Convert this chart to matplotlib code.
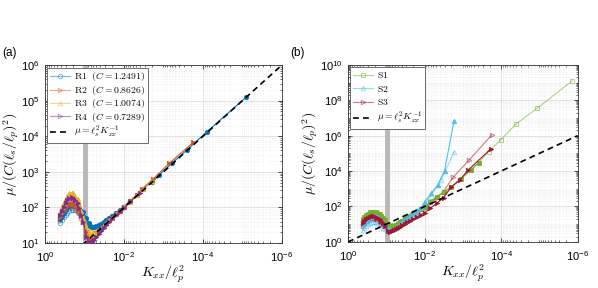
import matplotlib
matplotlib.use("Agg")
import matplotlib.pyplot as plt
import numpy as np
from matplotlib.ticker import LogLocator, NullFormatter

plt.rcParams['mathtext.fontset'] = 'cm'
plt.rcParams['font.family'] = ['Liberation Sans', 'DejaVu Sans']

# ---------------- data ----------------
k_hump = [0.41, 0.38, 0.34, 0.30, 0.27, 0.24, 0.21, 0.19, 0.17, 0.15, 0.135, 0.12, 0.107]
k_post = [0.089, 0.079, 0.071, 0.063, 0.056, 0.050, 0.044, 0.038, 0.033, 0.028,
          0.024, 0.020, 0.016, 0.0126, 0.010]

# panel (a)
r1_open_y = [37, 44, 53, 63, 72, 80, 85, 86, 83, 77, 70, 62, 55,
             42, 35, 31, 29, 29, 30, 32, 35, 39, 44, 50, 57, 68, 82, 100]
r1_fill_tail_k = [0.0071, 0.0048, 0.0032, 0.002, 0.00126, 0.00059, 0.00025, 7.8e-5, 8.1e-6]
r1_fill_y = [48, 58, 72, 88, 102, 112, 117, 115, 108, 97, 88, 80, 75,
             50, 36, 30, 28, 28, 30, 32, 35, 39, 44, 50, 58, 70, 84, 103,
             148, 220, 330, 530, 840, 1800, 4200, 13500, 125000]

r2_open_y = [42, 52, 64, 78, 90, 98, 102, 100, 93, 82, 68, 52, 38,
             22, 17, 15, 15, 16, 18, 21, 25, 30, 36, 43, 52, 64, 80, 102]
r2_fill_tail_k = [0.0071, 0.0048, 0.0035, 0.0018, 0.00071, 0.000174]
r2_fill_y = [55, 68, 84, 100, 115, 125, 128, 124, 113, 97, 78, 58, 40,
             18, 12.5, 11.5, 12, 14, 16.5, 20, 24, 29, 35, 43, 52, 65, 82, 105,
             152, 225, 330, 640, 1740, 6800]

r3_open_y = [60, 80, 105, 135, 165, 190, 200, 192, 170, 140, 108, 78, 55,
             35, 27, 23, 22, 22, 23, 25, 28, 33, 38, 45, 53, 65, 81, 102]
r3_fill_tail_k = [0.0071, 0.0048, 0.0032, 0.0019]
r3_fill_y = [75, 100, 135, 175, 215, 250, 262, 250, 215, 170, 122, 82, 52,
             28, 20, 17, 16.5, 17.5, 19.5, 22.5, 26.5, 31.5, 37.5, 44, 52, 64, 80, 102,
             146, 218, 325, 560]

r4_open_y = [48, 62, 80, 100, 120, 135, 142, 138, 125, 106, 85, 62, 44,
             24, 18, 16, 16, 17, 19, 22, 26, 31, 37, 44, 52, 63, 79, 100]
r4_fill_tail_k = [0.0071, 0.004]
r4_fill_y = [60, 78, 102, 130, 158, 180, 192, 185, 162, 130, 95, 62, 38,
             15, 11, 10.2, 10.5, 12, 14.5, 18, 22, 27, 33, 40, 49, 61, 77, 98,
             142, 255]

r_labels = [r'$\mathrm{R1}\ \ (C = 1.2491)$', r'$\mathrm{R2}\ \ (C = 0.8626)$',
            r'$\mathrm{R3}\ \ (C = 1.0074)$', r'$\mathrm{R4}\ \ (C = 0.7289)$']

# panel (b)
s1_open_tail_k = [0.0071, 0.0048, 0.0032, 0.002, 0.00115, 0.00063, 0.00039, 0.00021,
                  0.000102, 4.1e-5, 1.15e-5, 1.38e-6]
s1_open_y = [14, 18, 23, 28, 33, 37, 39, 38, 35, 30, 25, 19, 15,
             10, 8.5, 8, 8.5, 9.5, 11, 13, 16, 20, 25, 31, 40, 53, 70, 92,
             200, 355, 660, 1320, 3600, 11500, 30000, 126000, 575000, 4.5e6, 3.5e7, 1.26e9]
s1_fill_tail_k = [0.0071, 0.0048, 0.0032, 0.002, 0.00115, 0.00063, 0.00039]
s1_fill_y = [20, 26, 33, 40, 46, 50, 51, 49, 45, 38, 30, 23, 17,
             10, 8, 7.5, 8, 9, 10.5, 12.5, 15, 19, 24, 30, 39, 52, 70, 95,
             190, 340, 620, 1250, 3500, 11000, 29000]

s2_open_tail_k = [0.0066, 0.0045, 0.0037, 0.0017]
s2_open_y = [5, 6.5, 8, 10, 12, 13.5, 14, 13.5, 12, 10, 8, 6.5, 5.5,
             6, 6, 6.5, 7.5, 9, 11, 13.5, 17, 22, 28, 36, 47, 62, 85, 140,
             500, 1600, 3200, 112000]
s2_fill_tail_k = [0.0066, 0.0045, 0.003, 0.0017]
s2_fill_y = [10, 13, 16, 20, 24, 27, 28, 27, 24, 20, 16, 12, 9,
             6, 5, 5, 5.5, 6.5, 8, 10, 13, 17, 22, 29, 38, 52, 80, 190,
             560, 1700, 10700, 7e6]

s3_open_tail_k = [0.0071, 0.0048, 0.0032, 0.0018, 0.0007, 0.000174]
s3_open_y = [8, 10, 13, 16, 19, 21, 22, 21, 19, 16, 13, 10, 8,
             6, 5.5, 5.5, 6, 7, 8.5, 10.5, 13, 16, 20, 26, 34, 45, 60, 82,
             160, 300, 700, 4500, 40000, 1.12e6]
s3_fill_tail_k = [0.0071, 0.0048, 0.0032, 0.002, 0.0012, 0.00072, 0.000186]
s3_fill_y = [12, 15, 19, 23, 26, 28, 28, 26, 23, 19, 15, 11, 8,
             4, 3.8, 4, 4.5, 5.2, 6, 7, 8.5, 10.5, 13, 16, 20, 26, 34, 45,
             80, 150, 320, 1260, 3200, 11700, 178000]

s_labels = [r'$\mathrm{S1}$', r'$\mathrm{S2}$', r'$\mathrm{S3}$']

line_k = [1.0, 1e-6]
line_mu = [1.0, 1e6]
k_band = 0.095
line_label = r'$\mu = \ell_s^2 K_{xx}^{-1}$'

# ---------------- plotting ----------------
fig = plt.figure(figsize=(5.98, 2.88), dpi=100)
axA = fig.add_axes([0.0753, 0.156, 0.396, 0.618])
axB = fig.add_axes([0.582, 0.160, 0.384, 0.615])

def style_axes(ax, ylim, ymaj):
    ax.set_xscale('log')
    ax.set_yscale('log')
    ax.set_xlim(1, 1e-6)
    ax.set_ylim(*ylim)
    ax.xaxis.set_major_locator(LogLocator(base=100.0, numticks=10))
    ax.xaxis.set_minor_locator(LogLocator(base=10.0, subs=np.arange(1, 10), numticks=20))
    ax.xaxis.set_minor_formatter(NullFormatter())
    ax.yaxis.set_major_locator(LogLocator(base=ymaj, numticks=12))
    ax.yaxis.set_minor_locator(LogLocator(base=10.0, subs=np.arange(1, 10), numticks=20))
    ax.yaxis.set_minor_formatter(NullFormatter())
    ax.grid(True, which='major', color='#d8d8d8', lw=0.5, ls='-')
    ax.grid(True, which='minor', color='#e4e4e4', lw=0.4, ls=':')
    ax.tick_params(which='both', direction='in', top=True, right=True, labelsize=8)
    ax.tick_params(which='major', length=3, width=0.5)
    ax.tick_params(axis='x', which='major', pad=5)
    ax.tick_params(axis='y', which='major', pad=4)
    ax.tick_params(which='minor', length=1.5, width=0.4)
    for s in ax.spines.values():
        s.set_linewidth(0.6)
        s.set_color('#333333')
    ax.set_axisbelow(True)
    ax.axvline(k_band, color='#b8b8b8', lw=3.5, zorder=1)
    ax.set_xlabel(r'$K_{xx}/\ell_p^2$', fontsize=10, labelpad=0)
    ax.set_ylabel(r'$\mu/(C(\ell_s/\ell_p)^2)$', fontsize=10, labelpad=0)

style_axes(axA, (10, 1e6), 10.0)
style_axes(axB, (1, 1e10), 100.0)

colsA = ['#0072BD', '#D95319', '#EDB120', '#7E2F8E']
marksA = ['o', '>', '^', '>']
openA = [r1_open_y, r2_open_y, r3_open_y, r4_open_y]
fillA = [(r1_fill_tail_k, r1_fill_y), (r2_fill_tail_k, r2_fill_y),
         (r3_fill_tail_k, r3_fill_y), (r4_fill_tail_k, r4_fill_y)]
for c, m, oy, (tk, fy), lab in zip(colsA, marksA, openA, fillA, r_labels):
    axA.plot(k_hump + k_post, oy, color=c, alpha=0.5, lw=0.8, marker=m, ms=3.2,
             mfc='none', mew=0.7, label=lab, zorder=3)
    axA.plot(k_hump + k_post + tk, fy, color=c, lw=0.8, marker=m, ms=3.2,
             mfc=c, mew=0.5, zorder=4)
axA.plot(line_k, line_mu, 'k--', lw=1.2, dashes=(3.5, 2.5), label=line_label, zorder=5)

colsB = ['#77AC30', '#4DBEEE', '#A2142F']
marksB = ['s', '^', '>']
openB = [(s1_open_tail_k, s1_open_y), (s2_open_tail_k, s2_open_y), (s3_open_tail_k, s3_open_y)]
fillB = [(s1_fill_tail_k, s1_fill_y), (s2_fill_tail_k, s2_fill_y), (s3_fill_tail_k, s3_fill_y)]
for c, m, (ok, oy), (fk, fy), lab in zip(colsB, marksB, openB, fillB, s_labels):
    axB.plot(k_hump + k_post + ok, oy, color=c, alpha=0.55, lw=0.8, marker=m, ms=3.2,
             mfc='none', mew=0.7, label=lab, zorder=3)
    axB.plot(k_hump + k_post + fk, fy, color=c, lw=0.8, marker=m, ms=3.2,
             mfc=c, mew=0.5, zorder=4)
axB.plot(line_k, line_mu, 'k--', lw=1.2, dashes=(3.5, 2.5), label=line_label, zorder=5)

for ax, ls in ((axA, 0.05), (axB, 0.35)):
    leg = ax.legend(loc='upper left', fontsize=7, frameon=True, fancybox=False,
                    borderpad=0.3, labelspacing=ls, handlelength=2.0,
                    handletextpad=0.4, borderaxespad=0.25)
    leg.get_frame().set_edgecolor('#555555')
    leg.get_frame().set_linewidth(0.6)
    leg.get_frame().set_alpha(1.0)

fig.text(0.003, 0.805, '(a)', fontsize=8.5)
fig.text(0.486, 0.805, '(b)', fontsize=8.5)

fig.savefig('out.png', dpi=100)
